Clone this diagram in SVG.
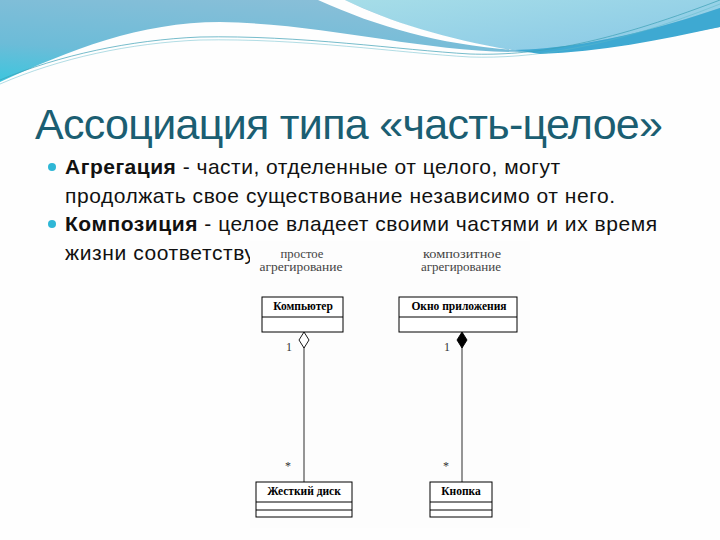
<svg xmlns="http://www.w3.org/2000/svg" width="720" height="540" viewBox="0 0 720 540">
<defs>
<linearGradient id="hdr" x1="0" y1="1" x2="0.6" y2="0">
<stop offset="0" stop-color="#3cc6de"/>
<stop offset="0.35" stop-color="#6cbcd8"/>
<stop offset="1" stop-color="#8cbfd8"/>
</linearGradient>
<linearGradient id="lite" x1="0" y1="0" x2="1" y2="1">
<stop offset="0" stop-color="#a6dde8"/>
<stop offset="1" stop-color="#88c8e6"/>
</linearGradient>
<style>
.title{font-family:"Liberation Sans",Arial,sans-serif;font-size:43px;fill:#1b5e72}
.body{font-family:"Liberation Sans",Arial,sans-serif;font-size:21px;fill:#111}
.b{font-weight:bold}
.cap{font-family:"Liberation Serif","Times New Roman",serif;font-size:12.5px;fill:#444;text-anchor:middle}
.cls{fill:#fff;stroke:#000;stroke-width:1}
.cn{font-family:"Liberation Serif","Times New Roman",serif;font-size:11.5px;font-weight:bold;fill:#000;text-anchor:middle}
.mult{font-family:"Liberation Serif","Times New Roman",serif;font-size:12px;fill:#333;text-anchor:middle}
.link{stroke:#8a8a8a;stroke-width:1.8;fill:none}
</style>
</defs>
<rect width="720" height="540" fill="#fefefe"/>
<!-- header waves -->
<path d="M0,0 H720 V27 C660,38 600,50 520,52 C420,52 330,24 220,22 C140,22 70,50 0,82 Z" fill="url(#hdr)"/>
<path d="M345,0 C400,26 460,44 515,50 C590,48 660,28 720,8 V0 Z" fill="url(#lite)"/>
<path d="M515,50 C590,48 660,28 720,8 V27 C660,40 600,52 540,54 Z" fill="#3ea9d2"/>
<path d="M318,0 C380,28 440,44 512,50 C450,40 390,22 345,0 Z" fill="#fefefe"/>
<path d="M0,80 C60,55 130,40 200,37 C300,35 400,50 470,54 C530,56 600,46 720,0" fill="none" stroke="#3c9fb5" stroke-width="1" opacity="0.7"/>
<path d="M0,84 C60,58 130,43 200,40 C300,38 400,53 470,57 C530,59 610,48 720,4" fill="none" stroke="#5cb8c8" stroke-width="0.8" opacity="0.6"/>
<!-- title -->
<text class="title" x="35" y="139" textLength="628" lengthAdjust="spacing">Ассоциация типа «часть-целое»</text>
<!-- bullets -->
<circle cx="52" cy="167" r="4" fill="#2fb7d6"/>
<circle cx="52" cy="224" r="4" fill="#2fb7d6"/>
<text class="body" x="65" y="174" textLength="495" lengthAdjust="spacing"><tspan class="b">Агрегация</tspan> - части, отделенные от целого, могут</text>
<text class="body" x="65" y="202.5" textLength="550" lengthAdjust="spacing">продолжать свое существование независимо от него.</text>
<text class="body" x="65" y="231" textLength="592" lengthAdjust="spacing"><tspan class="b">Композиция</tspan> - целое владеет своими частями и их время</text>
<text class="body" x="65" y="259.5" textLength="190" lengthAdjust="spacing">жизни соответству</text>
<!-- diagram picture -->
<rect x="250" y="241" width="280" height="287" fill="#fdfdfd"/>
<text class="cap" x="302" y="258" textLength="43" lengthAdjust="spacingAndGlyphs">простое</text>
<text class="cap" x="301" y="271" textLength="83" lengthAdjust="spacingAndGlyphs">агрегирование</text>
<text class="cap" x="462" y="258" textLength="78" lengthAdjust="spacingAndGlyphs">композитное</text>
<text class="cap" x="461" y="271" textLength="80" lengthAdjust="spacingAndGlyphs">агрегирование</text>
<g id="connectors">
<line class="link" x1="304" y1="347" x2="304" y2="482"/>
<line class="link" x1="462" y1="347" x2="462" y2="482"/>
<path d="M304,332 L309,340 L304,348 L299,340 Z" fill="#fff" stroke="#000" stroke-width="0.9"/>
<path d="M462,332 L467,340 L462,348 L457,340 Z" fill="#000" stroke="#000" stroke-width="0.9"/>
<text class="mult" x="289" y="351">1</text>
<text class="mult" x="447" y="351">1</text>
<text class="mult" x="288" y="470">*</text>
<text class="mult" x="446" y="470">*</text>
</g>
<g id="computer">
<rect class="cls" x="262" y="297" width="81" height="35"/>
<line x1="262" y1="317" x2="343" y2="317" stroke="#000"/>
<text class="cn" x="303" y="310">Компьютер</text>
</g>
<g id="window">
<rect class="cls" x="399" y="297" width="118" height="35"/>
<line x1="399" y1="317" x2="517" y2="317" stroke="#000"/>
<text class="cn" x="459" y="310">Окно приложения</text>
</g>
<g id="disk">
<rect class="cls" x="256" y="482" width="96" height="35"/>
<line x1="256" y1="502" x2="352" y2="502" stroke="#000"/>
<line x1="256" y1="510" x2="352" y2="510" stroke="#000"/>
<text class="cn" x="304" y="495">Жесткий диск</text>
</g>
<g id="button">
<rect class="cls" x="430" y="482" width="62" height="35"/>
<line x1="430" y1="502" x2="492" y2="502" stroke="#000"/>
<line x1="430" y1="510" x2="492" y2="510" stroke="#000"/>
<text class="cn" x="461" y="495">Кнопка</text>
</g>
</svg>
